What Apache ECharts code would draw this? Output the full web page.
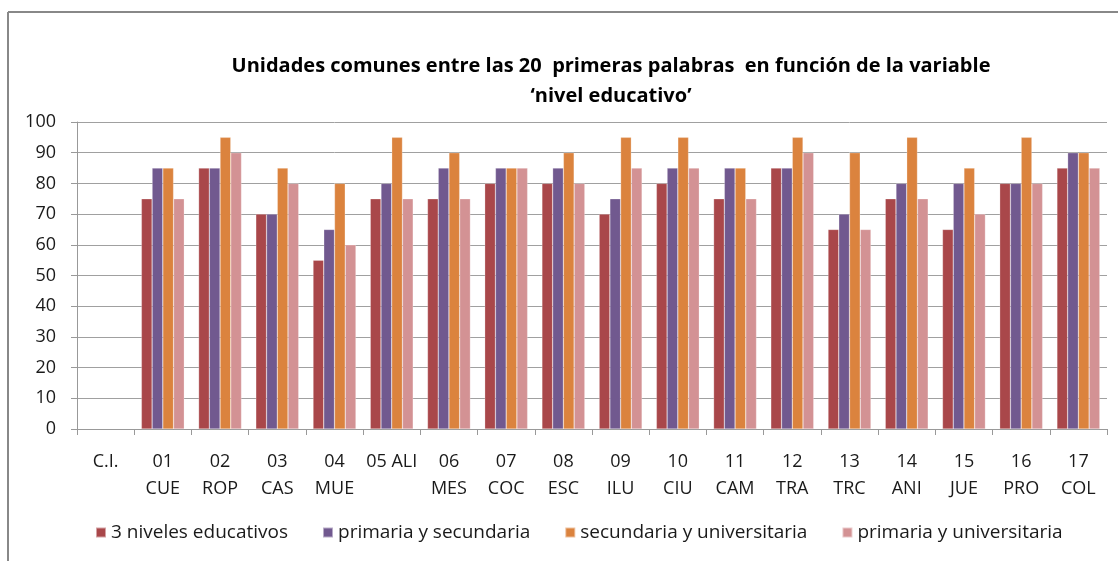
<!DOCTYPE html>
<html><head><meta charset="utf-8">
<script src="https://cdn.jsdelivr.net/npm/echarts@6/dist/echarts.min.js"></script>
<style>html,body{margin:0;padding:0;background:#fff}#c{width:1118px;height:561px}</style>
</head><body><div id="c"></div>
<script>
const categories = ['C.I.','01\nCUE','02\nROP','03\nCAS','04\nMUE','05 ALI','06\nMES','07\nCOC','08\nESC','09\nILU','10\nCIU','11\nCAM','12\nTRA','13\nTRC','14\nANI','15\nJUE','16\nPRO','17\nCOL'];
const seriesNames = ['3 niveles educativos','primaria y secundaria','secundaria y universitaria','primaria y universitaria'];
const tresNiveles = [null,75,85,70,55,75,75,80,80,70,80,75,85,65,75,65,80,85];
const primSec = [null,85,85,70,65,80,85,85,85,75,85,85,85,70,80,80,80,90];
const secUniv = [null,85,95,85,80,95,90,85,90,95,95,85,95,90,95,85,95,90];
const primUniv = [null,75,90,80,60,75,75,85,80,85,85,75,90,65,75,70,80,85];
const yTicks = [0,10,20,30,40,50,60,70,80,90,100];
const colors = ['#A9474A','#71598F','#DB833E','#D39294'];
const font = '"Open Sans", Lato, sans-serif';
const chart = echarts.init(document.getElementById('c'));
const dataSets = [tresNiveles, primSec, secUniv, primUniv];
chart.setOption({
  animation:false,
  color: colors,
  title:{text:'Unidades comunes entre las 20  primeras palabras  en función de la variable\n‘nivel educativo’',
    left:606, textAlign:'center', top:46,
    textStyle:{fontFamily:font,fontSize:20,fontWeight:'bold',color:'#000',lineHeight:30}},
  graphic:[
    {type:'line',shape:{x1:8,y1:12,x2:1118,y2:12},style:{stroke:'#888',lineWidth:2}},
    {type:'line',shape:{x1:8,y1:12,x2:8,y2:561},style:{stroke:'#888',lineWidth:2}}
  ],
  grid:{left:77,right:11,top:122,bottom:132},
  legend:{bottom:14,left:90,itemWidth:10,itemHeight:10,itemGap:34,icon:'rect',
    textStyle:{fontFamily:font,fontSize:19,color:'#1a1a1a'},data:seriesNames},
  xAxis:{type:'category',data:categories,
    axisLine:{lineStyle:{color:'#999'}},
    axisTick:{show:true,length:6,lineStyle:{color:'#999'}},
    axisLabel:{fontFamily:font,fontSize:18,color:'#1a1a1a',margin:19,lineHeight:27,interval:0}},
  yAxis:{type:'value',min:0,max:100,interval:10,
    axisLine:{show:true,lineStyle:{color:'#999'}},
    axisTick:{show:true,length:6,lineStyle:{color:'#999'}},
    splitLine:{lineStyle:{color:'#a0a0a0',width:1}},
    axisLabel:{fontFamily:font,fontSize:18,color:'#1a1a1a',margin:21,
      formatter:v=>yTicks.includes(v)?String(v):''}},
  series: seriesNames.map((n,i)=>({name:n,type:'bar',data:dataSets[i],
    barGap:'0%',barCategoryGap:'25%',
    itemStyle:{color:colors[i],borderColor:'rgba(255,255,255,0.5)',borderWidth:0.5}}))
});
</script></body></html>
